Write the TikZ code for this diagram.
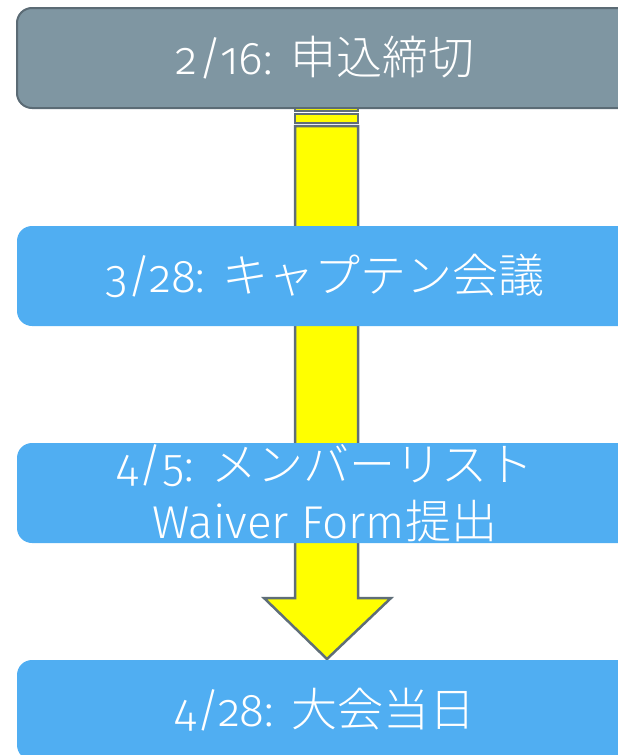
\documentclass[tikz,border=0pt]{standalone}
\usepackage{fontspec}
\setmainfont{Fira Sans}[UprightFont=* Light, Numbers=OldStyle]
\newfontfamily\cjk{Noto Sans CJK JP}[UprightFont=* Light]
\definecolor{boxgray}{HTML}{7F96A2}
\definecolor{graybord}{HTML}{5B6B75}
\definecolor{boxblue}{HTML}{50AEF2}
\definecolor{arrowbord}{HTML}{5F6E78}
\definecolor{arrowfill}{HTML}{FFFF00}
\begin{document}
\begin{tikzpicture}[x=1pt,y=-1pt,
  box/.style={rounded corners=15pt, minimum width=616pt, minimum height=100pt,
    inner sep=0pt, text=white, font=\fontsize{46}{57}\selectfont, align=center},
  graybox/.style={box, fill=boxgray, draw=graybord, line width=2pt},
  bluebox/.style={box, fill=boxblue},
  arrowpart/.style={fill=arrowfill, draw=arrowbord, line width=2.5pt, line join=miter}]
\useasboundingbox (0,0) rectangle (618,755);
\clip (0,0) rectangle (618,755);
% arrow (behind the boxes)
\draw[arrowpart] (295,100) rectangle (358,111);
\draw[arrowpart] (295,114) rectangle (358,123);
\draw[arrowpart] (295,126) -- (358,126) -- (358,598) -- (391,598) -- (327,659)
  -- (264,598) -- (295,598) -- cycle;
% boxes
\node[graybox] (b1) at (325,58) {2/16: {\cjk 申込締切}};
\node[bluebox] (b2) at (325,276) {3/28: {\cjk キャプテン会議}};
\node[bluebox] (b3) at (325,493) {4/5: {\cjk メンバーリスト}\\Waiver Form{\cjk 提出}};
\node[bluebox] (b4) at (325,710) {4/28: {\cjk 大会当日}};
\end{tikzpicture}
\end{document}
